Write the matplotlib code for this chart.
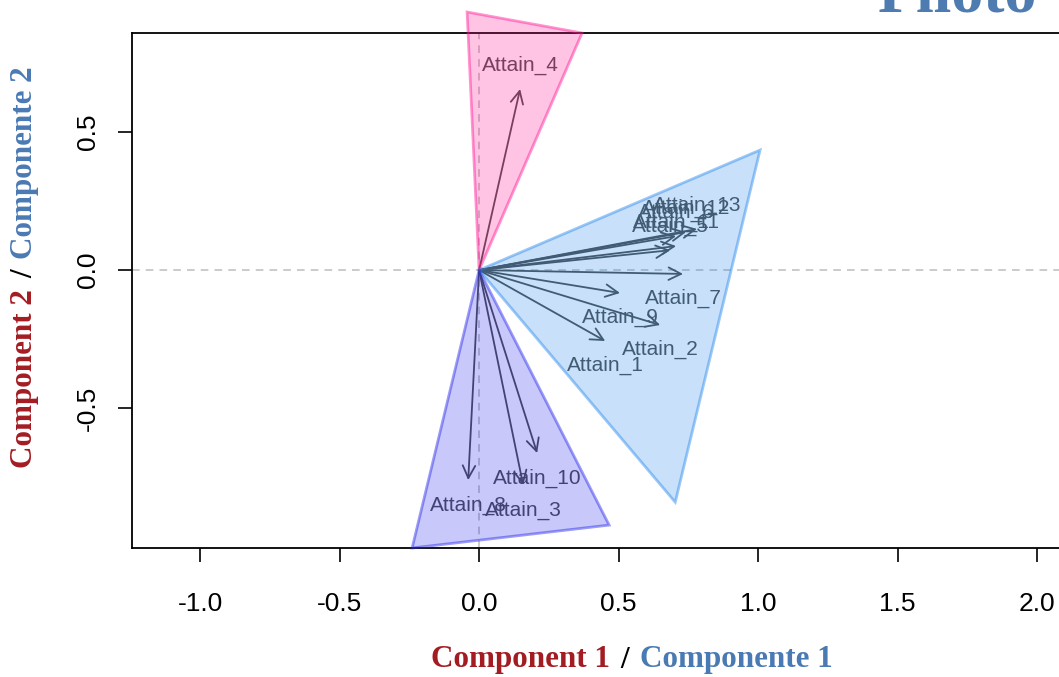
import matplotlib.pyplot as plt
import numpy as np
from matplotlib.patches import Polygon

# cargas de las componentes
nombres = ['Attain_1', 'Attain_2', 'Attain_3', 'Attain_4', 'Attain_5', 'Attain_6', 'Attain_7',
           'Attain_8', 'Attain_9', 'Attain_10', 'Attain_11', 'Attain_12', 'Attain_13']
comp1 = [0.452, 0.649, 0.158, 0.147, 0.685, 0.706, 0.731, -0.039, 0.505, 0.208, 0.706, 0.742, 0.781]
comp2 = [-0.257, -0.199, -0.779, 0.656, 0.072, 0.123, -0.014, -0.761, -0.083, -0.663, 0.087, 0.138, 0.149]

# grupos (vertices de los poligonos)
poli_rosa = [(0, 0), (-0.043, 0.935), (0.369, 0.859)]
poli_azul = [(0, 0), (1.007, 0.435), (0.703, -0.841)]
poli_morado = [(0, 0), (-0.240, -1.007), (0.466, -0.924)]

xticks = [-1.0, -0.5, 0.0, 0.5, 1.0, 1.5, 2.0]
yticks = [-0.5, 0.0, 0.5]

W, H = 1059, 677
fig = plt.figure(figsize=(W / 100, H / 100), dpi=100)
# el recuadro sigue mas alla del borde derecho de la imagen
ax = fig.add_axes([132 / W, 1 - 548 / H, (1132 - 132) / W, (548 - 33) / H])
ax.set_xlim(-1.244, 2.34)
ax.set_ylim(-1.007, 0.859)

ax.axhline(0, color='#bdbdbd', lw=1.1, dashes=(5, 4), zorder=1)
ax.axvline(0, color='#bdbdbd', lw=1.1, dashes=(5, 4), zorder=1)

gris = '#4d4d4d'
for n, x, y in zip(nombres, comp1, comp2):
    ax.annotate('', xy=(x, y), xytext=(0, 0),
                arrowprops=dict(arrowstyle='->,head_length=0.5,head_width=0.25',
                                color=gris, lw=1.3, shrinkA=0, shrinkB=0,
                                mutation_scale=18), zorder=2)
    dy = 0.085 if y > 0 else -0.09
    ax.text(x, y + dy, n, color=gris, fontsize=15, family='Liberation Sans',
            ha='center', va='center', zorder=3)

for pts, rgb in [(poli_rosa, (1.0, 0.08, 0.58)),
                 (poli_azul, (0.14, 0.53, 0.93)),
                 (poli_morado, (0.14, 0.14, 0.93))]:
    ax.add_patch(Polygon(pts, closed=True, facecolor=rgb + (0.25,),
                         edgecolor=rgb + (0.45,), lw=2, zorder=4, clip_on=False))

ax.set_xticks(xticks)
ax.set_xticklabels([f'{v:.1f}' for v in xticks])
ax.set_yticks(yticks)
ax.set_yticklabels([f'{v:.1f}' for v in yticks], rotation=90, va='center')
for lab in ax.get_xticklabels() + ax.get_yticklabels():
    lab.set_family('Liberation Sans')
ax.tick_params(labelsize=19, length=10, width=1.2, direction='out')
ax.tick_params(axis='x', pad=22)
ax.tick_params(axis='y', pad=13)
for s in ax.spines.values():
    s.set_linewidth(1.3)

# etiquetas de ejes en dos colores
rojo = '#a31c22'
azul = '#4a7ab4'
fig.canvas.draw()
rend = fig.canvas.get_renderer()


def etiqueta(piezas, cx, cy, vertical=False, gap=11):
    textos = []
    for s, c in piezas:
        t = fig.text(0, 0, s, color=c, fontsize=22.4, family='Liberation Serif',
                     weight='bold', rotation=90 if vertical else 0,
                     ha='center' if vertical else 'left',
                     va='bottom' if vertical else 'center')
        textos.append(t)
    tam = []
    for t in textos:
        bb = t.get_window_extent(rend)
        tam.append(bb.height if vertical else bb.width)
    total = sum(tam) + gap * (len(tam) - 1)
    pos = (cy + total / 2) if vertical else (cx - total / 2)
    for t, l in zip(textos, tam):
        if vertical:
            t.set_position((cx / W, 1 - pos / H))
            pos -= l + gap
        else:
            t.set_position((pos / W, 1 - cy / H))
            pos += l + gap


etiqueta([('Component 1', rojo), ('/', 'black'), ('Componente 1', azul)], 632, 660)
etiqueta([('Component 2', rojo), ('/', 'black'), ('Componente 2', azul)], 25, 267, vertical=True)

fig.text(878 / W, 1 - 12 / H, 'Piloto', color='#4f7cb0', fontsize=46,
         family='Liberation Serif', weight='bold', va='baseline', ha='left')

fig.savefig('out.png', dpi=100)
